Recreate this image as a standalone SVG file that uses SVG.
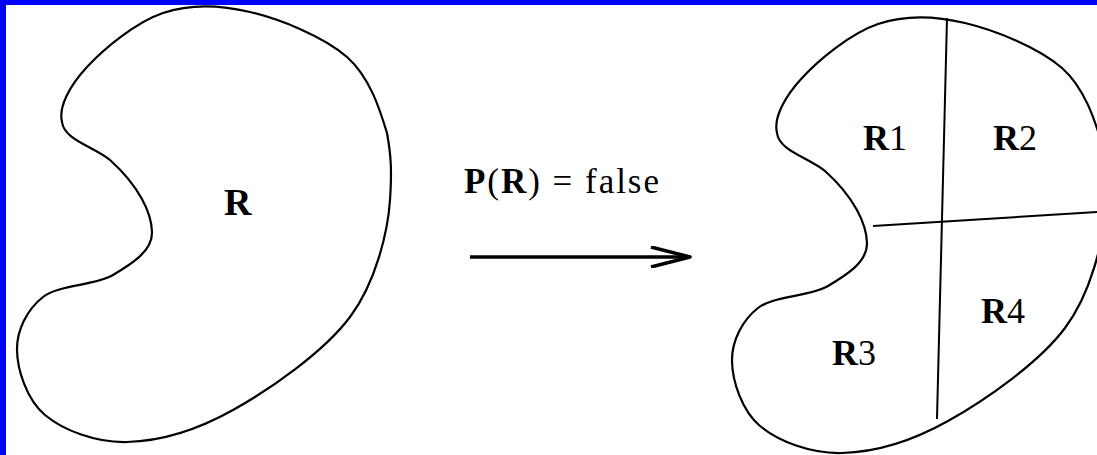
<svg xmlns="http://www.w3.org/2000/svg" xmlns:xlink="http://www.w3.org/1999/xlink" width="1097" height="455" viewBox="0 0 1097 455">
<style>
.outline{fill:none;stroke:#000;stroke-width:2.2;stroke-linejoin:round}
.cut{fill:none;stroke:#000;stroke-width:2}
.lbl{font-family:"Liberation Serif","Times New Roman",serif;fill:#000}
.b{font-weight:bold}
</style>
<defs>
<path id="blob" d="M62,122 C58.2,106.5 70.2,85.2 87,67 C103.8,48.8 135.8,22.2 163,13 C190.2,3.8 219.3,4.7 250,12 C280.7,19.3 324.2,36.8 347,57 C369.8,77.2 379.8,109.2 387,133 C391,155 392,170 390,200 C388,230.7 376.2,282 350,317 C323.8,352 270.2,389.2 233,410 C195.8,430.8 158.3,441.2 127,442 C95.7,442.8 63.3,430.3 45,415 C26.7,399.7 17.3,369.7 17,350 C16.7,330.3 27,309.5 43,297 C59,284.5 94.8,285.8 113,275 C131.2,264.2 152.5,251.2 152,232 C151.5,212.8 139,186 110,160 C95,147 64,140 62,122 Z"/>
<marker id="chev" viewBox="0 0 42 22" refX="40" refY="11" markerWidth="42" markerHeight="22" markerUnits="userSpaceOnUse" orient="auto">
<path d="M1,1 L40,11 L1,21" fill="none" stroke="#000" stroke-width="3.5" stroke-linejoin="round"/>
</marker>
</defs>
<rect x="0" y="0" width="1097" height="455" fill="#fff"/>
<rect x="0" y="0" width="1097" height="5" fill="#0000ff"/>
<rect x="0" y="0" width="6" height="455" fill="#0000ff"/>
<g id="region-R">
<use xlink:href="#blob" class="outline"/>
<text class="lbl b" x="224" y="215" font-size="38">R</text>
</g>
<g id="region-split">
<use xlink:href="#blob" class="outline" transform="translate(715,11)"/>
<line class="cut" x1="947" y1="18" x2="937" y2="419"/>
<line class="cut" x1="873" y1="226" x2="1097" y2="212"/>
<text class="lbl" x="863" y="150" font-size="36"><tspan class="b">R</tspan>1</text>
<text class="lbl" x="993" y="150" font-size="36"><tspan class="b">R</tspan>2</text>
<text class="lbl" x="832" y="365" font-size="36"><tspan class="b">R</tspan>3</text>
<text class="lbl" x="981" y="323" font-size="36"><tspan class="b">R</tspan>4</text>
</g>
<g id="connectors">
<line x1="470" y1="257" x2="690" y2="257" stroke="#000" stroke-width="3.5" marker-end="url(#chev)"/>
<text class="lbl" x="464" y="193" font-size="35" textLength="195"><tspan class="b">P</tspan>(<tspan class="b">R</tspan>) = false</text>
</g>
</svg>
